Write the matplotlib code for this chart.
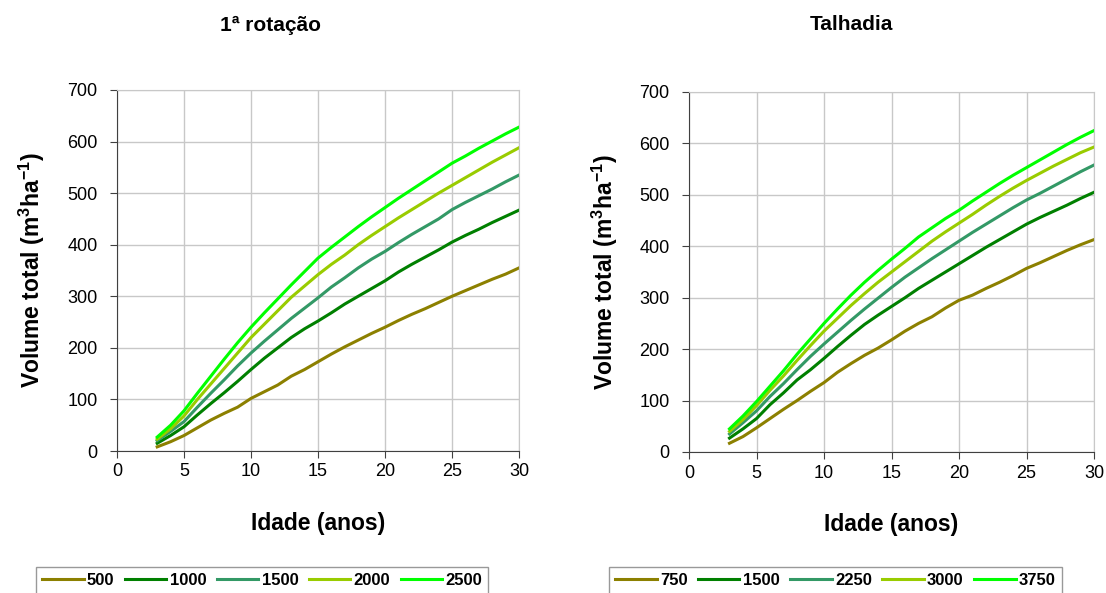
import numpy as np
import matplotlib
matplotlib.use("Agg")
import matplotlib.pyplot as plt

plt.rcParams['font.family'] = ['Liberation Sans', 'DejaVu Sans']
plt.rcParams['mathtext.fontset'] = 'custom'
plt.rcParams['mathtext.rm'] = 'Liberation Sans'
plt.rcParams['mathtext.bf'] = 'Liberation Sans:bold'

idade = list(range(3, 31))

# 1a rotacao - densidades (arv/ha)
dens_rot = ['500', '1000', '1500', '2000', '2500']
vol_500 = [8, 18, 30, 45, 60, 73, 85, 102, 115, 128, 145, 158, 173, 188, 202, 215, 228, 240,
           253, 265, 276, 288, 300, 311, 322, 333, 343, 355]
vol_1000 = [15, 30, 47, 70, 92, 113, 135, 158, 180, 200, 220, 237, 252, 268, 285, 300, 315, 330,
            347, 362, 376, 390, 405, 418, 430, 443, 455, 467]
vol_1500 = [20, 38, 57, 85, 112, 138, 165, 190, 213, 235, 257, 277, 297, 318, 336, 355, 372, 387,
            404, 420, 435, 450, 468, 482, 495, 508, 522, 535]
vol_2000 = [23, 43, 68, 100, 130, 160, 190, 220, 246, 272, 298, 320, 342, 362, 380, 400, 418, 435,
            452, 468, 484, 500, 515, 530, 545, 560, 574, 588]
vol_2500 = [27, 50, 78, 112, 145, 178, 210, 240, 268, 295, 322, 348, 374, 395, 415, 435, 454, 472,
            490, 507, 524, 541, 558, 572, 587, 601, 615, 628]

# Talhadia
dens_tal = ['750', '1500', '2250', '3000', '3750']
tal_750 = [17, 30, 47, 65, 83, 100, 118, 135, 155, 172, 188, 202, 218, 235, 250, 263, 280, 295,
           305, 318, 330, 343, 357, 368, 380, 392, 403, 413]
tal_1500 = [27, 45, 65, 92, 115, 140, 160, 182, 205, 227, 248, 266, 283, 300, 318, 334, 350, 366,
            382, 398, 413, 428, 443, 456, 468, 480, 493, 505]
tal_2250 = [35, 57, 80, 108, 133, 160, 186, 210, 233, 256, 278, 299, 320, 340, 358, 376, 393, 410,
            427, 443, 459, 475, 490, 503, 517, 531, 545, 558]
tal_3000 = [40, 63, 90, 120, 148, 178, 207, 235, 260, 285, 308, 330, 350, 370, 390, 410, 428, 445,
            462, 480, 497, 513, 528, 542, 556, 569, 582, 593]
tal_3750 = [45, 70, 98, 128, 158, 190, 220, 250, 278, 305, 330, 353, 375, 396, 418, 436, 454, 470,
            488, 505, 522, 538, 553, 568, 583, 598, 612, 625]

cores = ['#8c8000', '#008000', '#339966', '#99cc00', '#00ff00']

W, H = 1106, 593
fig = plt.figure(figsize=(W / 100, H / 100), dpi=100)


def painel(x0, y0, w, h, series, nomes, titulo, tx, ylab_x, leg_x):
    # posicoes em pixels, origem no canto superior esquerdo
    ax = fig.add_axes([x0 / W, 1 - y0 / H, w / W, h / H])
    for y, nome, c in zip(series, nomes, cores):
        ax.plot(idade, y, color=c, lw=2.2, label=nome)
    ax.set_xlim(0, 30)
    ax.set_ylim(0, 700)
    ax.set_xticks(range(0, 31, 5))
    ax.set_yticks(range(0, 701, 100))
    ax.grid(True, color='#c8c8c8', lw=1)
    ax.set_axisbelow(True)
    for s in ['top', 'right']:
        ax.spines[s].set_color('#c8c8c8')
    for s in ['left', 'bottom']:
        ax.spines[s].set_color('#404040')
    ax.tick_params(labelsize=13, direction='out', length=5, color='#404040')
    ax.tick_params(axis='y', pad=9)
    ax.tick_params(axis='x', pad=4)
    ax.set_xlabel('Idade (anos)', fontsize=16.5, fontweight='bold')
    ax.set_ylabel('Volume total (m$\\mathbf{^3}$ha$\\mathbf{^{-1}}$)', fontsize=16.5,
                  fontweight='bold')
    ax.xaxis.set_label_coords(0.5, -61 / h)
    ax.yaxis.set_label_coords(-(x0 - ylab_x) / w, 0.5)
    fig.text(tx / W, 1 - 25 / H, titulo, ha='center', va='center', fontsize=15,
             fontweight='bold')
    leg = fig.legend(*ax.get_legend_handles_labels(), loc='upper left', ncol=5,
                     bbox_to_anchor=(leg_x / W, 1 - 567 / H), borderaxespad=0,
                     frameon=True, fancybox=False, edgecolor='#808080', borderpad=0.35,
                     handlelength=2.5, handletextpad=0.2, columnspacing=0.62,
                     prop={'weight': 'bold', 'size': 12})
    leg.get_frame().set_linewidth(1)
    return ax


painel(117, 451, 402, 361,
       [vol_500, vol_1000, vol_1500, vol_2000, vol_2500], dens_rot, '1ª rotação', 271, 47, 36)
painel(689, 452, 405, 360,
       [tal_750, tal_1500, tal_2250, tal_3000, tal_3750], dens_tal, 'Talhadia', 851, 620, 609)

fig.savefig('out.png', dpi=100)
